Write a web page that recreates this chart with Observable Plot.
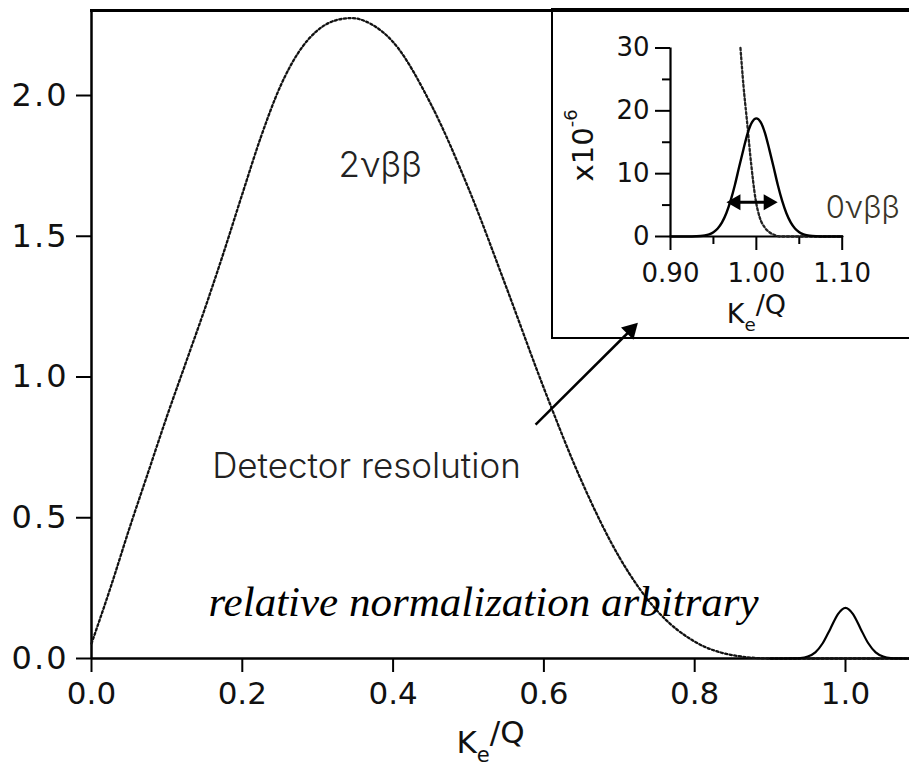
<!DOCTYPE html>
<html><head><meta charset="utf-8">
<script src="https://cdn.jsdelivr.net/npm/d3@7"></script>
<script src="https://cdn.jsdelivr.net/npm/@observablehq/plot@0.6"></script>
<style>
html,body{margin:0;padding:0;background:#fff;overflow:hidden;}
#wrap{position:relative;width:909px;height:767px;overflow:hidden;background:#fff;}
#main{position:absolute;left:0;top:0;}
#insetBox{position:absolute;left:551px;top:8px;width:400px;height:326px;border-left:2px solid #000;border-top:3px solid #000;border-bottom:2px solid #000;}
</style></head><body>
<div id="wrap"><div id="main"></div><div id="insetBox"></div></div>
<script>
// ---- main chart: 2νββ spectrum (dotted) ----
const twoNuX = [0, 0.025, 0.05, 0.075, 0.10, 0.125, 0.15, 0.175, 0.20, 0.225, 0.25, 0.275, 0.30, 0.325, 0.345, 0.37, 0.40, 0.45, 0.50, 0.55, 0.60, 0.65, 0.70, 0.75, 0.80, 0.85, 0.90, 1.085];
const twoNuY = [0.053, 0.25, 0.46, 0.66, 0.86, 1.05, 1.24, 1.44, 1.65, 1.855, 2.03, 2.155, 2.232, 2.268, 2.275, 2.255, 2.19, 1.97, 1.67, 1.32, 0.96, 0.63, 0.36, 0.17, 0.06, 0.012, 0.0, 0.0];
// ---- main chart: 0νββ peak (solid) ----
const zeroNuX = [0.90, 0.92, 0.93, 0.94, 0.95, 0.96, 0.97, 0.98, 0.99, 1.00, 1.01, 1.02, 1.03, 1.04, 1.05, 1.06, 1.07, 1.08, 1.085];
const zeroNuY = [0, 0, 0.0005, 0.0015, 0.007, 0.022, 0.055, 0.106, 0.158, 0.18, 0.158, 0.106, 0.055, 0.022, 0.007, 0.0015, 0.0005, 0, 0];
// ---- main ticks ----
const mainXTicks = [0, 0.2, 0.4, 0.6, 0.8, 1.0];
const mainYTicks = [0, 0.5, 1.0, 1.5, 2.0];
// ---- main annotations ----
const peakLabel = ["2νββ"], peakLabelX = [0.383], peakLabelY = [1.75];
const resLabel = ["Detector resolution"], resLabelX = [0.16], resLabelY = [0.68];
const normText = ["relative normalization arbitrary"], normX = [0.52], normY = [0.2];
// main arrow (from, to)
const arrowX1 = [0.589], arrowY1 = [0.831], arrowX2 = [0.7152], arrowY2 = [1.167];

// ---- inset: 0νββ peak (solid) ----
const insetPeakX = [0.90, 0.92, 0.93, 0.935, 0.94, 0.945, 0.95, 0.955, 0.96, 0.965, 0.97, 0.975, 0.98, 0.985, 0.99, 0.995, 1.00, 1.005, 1.01, 1.015, 1.02, 1.025, 1.03, 1.035, 1.04, 1.045, 1.05, 1.055, 1.06, 1.065, 1.07, 1.08, 1.10];
const insetPeakY = [0, 0, 0.03, 0.07, 0.16, 0.34, 0.68, 1.28, 2.25, 3.7, 5.7, 8.2, 11.1, 13.9, 16.5, 18.2, 18.8, 18.2, 16.5, 13.9, 11.1, 8.2, 5.7, 3.7, 2.25, 1.28, 0.68, 0.34, 0.16, 0.07, 0.03, 0, 0];
// ---- inset: 2νββ tail (dotted) ----
const insetTailX = [0.9815, 0.985, 0.989, 0.994, 0.999, 1.004, 1.010, 1.016, 1.022, 1.028, 1.10];
const insetTailY = [30, 24, 18.5, 11.5, 6.0, 3.0, 1.4, 0.6, 0.2, 0, 0];
const insetXTicks = [0.90, 1.00, 1.10];
const insetXMinor = [0.95, 1.05];
const insetYTicks = [0, 10, 20, 30];
const insetYMinor = [5, 15, 25];
// resolution double arrow
const resX1 = [0.976], resX2 = [1.014], resY = [5.45];
const zeroNuLabel = ["0νββ"], zeroNuLabelX = [1.124], zeroNuLabelY = [4.6];

const pts = (xs, ys) => xs.map((x, i) => ({x, y: ys[i]}));

const tickFont = "'DejaVu Sans', sans-serif";
const lightFont = "Inter, 'Open Sans', sans-serif";

const main = Plot.plot({
  width: 909, height: 767,
  marginLeft: 91, marginRight: 0, marginTop: 10, marginBottom: 109,
  style: {background: "transparent", fontFamily: tickFont, color: "#111"},
  x: {domain: [0, 1.0849]},
  y: {domain: [0, 2.302]},
  marks: [
    Plot.frame({anchor: "top", stroke: "#000", strokeWidth: 3}),
    Plot.axisX({ticks: mainXTicks, tickSize: 14, tickPadding: 9, tickFormat: d3.format(".1f"), fontSize: 31, label: null, strokeWidth: 2, stroke: "#000"}),
    Plot.axisY({ticks: mainYTicks, tickSize: 15, tickPadding: 8, tickFormat: d3.format(".1f"), fontSize: 32, label: null, strokeWidth: 2, stroke: "#000"}),
    Plot.ruleY([0], {stroke: "#000", strokeWidth: 2.5}),
    Plot.ruleX([0], {stroke: "#000", strokeWidth: 2.5, y1: 0, y2: 2.302}),
    Plot.line(pts(twoNuX, twoNuY), {x: "x", y: "y", curve: "monotone-x", stroke: "#111", strokeWidth: 2.3, strokeDasharray: "2.2 2.4"}),
    Plot.line(pts(zeroNuX, zeroNuY), {x: "x", y: "y", curve: "monotone-x", stroke: "#000", strokeWidth: 2.2}),
    Plot.link([0], {x1: () => arrowX1[0], y1: () => arrowY1[0], x2: () => arrowX2[0], y2: () => arrowY2[0], stroke: "#000", strokeWidth: 2.5}),
    Plot.dot([0], {x: () => arrowX2[0], y: () => arrowY2[0], symbol: "triangle", r: 6.5, fill: "#000", stroke: "none", rotate: 45}),
    Plot.text(peakLabel, {x: (d, i) => peakLabelX[i], y: (d, i) => peakLabelY[i], text: d => d, textAnchor: "middle", fontSize: 35, fontFamily: lightFont, fontWeight: 300, fill: "#222"}),
    Plot.text(resLabel, {x: (d, i) => resLabelX[i], y: (d, i) => resLabelY[i], text: d => d, textAnchor: "start", fontSize: 35, fontFamily: lightFont, fontWeight: 300, fill: "#222"}),
    Plot.text(normText, {x: (d, i) => normX[i], y: (d, i) => normY[i], text: d => d, fontSize: 43, fontFamily: "'Liberation Serif', serif", fontStyle: "italic", fill: "#000"}),
    Plot.text(["Ke/Q"], {frameAnchor: "bottom", dy: 94, dx: -10, text: d => d, fontSize: 31, fontFamily: tickFont, fill: "#111"})
  ]
});
document.getElementById("main").appendChild(main);

const inset = Plot.plot({
  width: 356, height: 326,
  marginLeft: 117, marginRight: 67.3, marginTop: 36.5, marginBottom: 101,
  style: {background: "transparent", fontFamily: tickFont, color: "#111", overflow: "visible"},
  x: {domain: [0.9, 1.1]},
  y: {domain: [0, 30]},
  marks: [
    Plot.axisX({ticks: insetXTicks, tickSize: 14, tickPadding: 13, tickFormat: d3.format(".2f"), fontSize: 26, label: null, strokeWidth: 2, stroke: "#000"}),
    Plot.axisX({ticks: insetXMinor, tickSize: 8, text: null, label: null, strokeWidth: 2, stroke: "#000"}),
    Plot.axisY({ticks: insetYTicks, tickSize: 15, tickPadding: 6, fontSize: 26, label: null, strokeWidth: 2, stroke: "#000"}),
    Plot.axisY({ticks: insetYMinor, tickSize: 8, text: null, label: null, strokeWidth: 2, stroke: "#000"}),
    Plot.ruleY([0], {stroke: "#000", strokeWidth: 2.2}),
    Plot.ruleX([0.9], {stroke: "#000", strokeWidth: 2.2}),
    Plot.line(pts(insetTailX, insetTailY), {x: "x", y: "y", curve: "monotone-x", stroke: "#222", strokeWidth: 2.3, strokeDasharray: "2.2 2.4"}),
    Plot.line(pts(insetPeakX, insetPeakY), {x: "x", y: "y", curve: "monotone-x", stroke: "#000", strokeWidth: 2.4}),
    Plot.link([0], {x1: () => resX1[0], x2: () => resX2[0], y1: () => resY[0], y2: () => resY[0], stroke: "#000", strokeWidth: 3}),
    Plot.dot([0, 1], {x: (d) => d === 0 ? resX1[0] : resX2[0], y: () => resY[0], symbol: "triangle", r: 6, fill: "#000", stroke: "none", rotate: d => d === 0 ? -90 : 90}),
    Plot.text(zeroNuLabel, {x: (d, i) => zeroNuLabelX[i], y: (d, i) => zeroNuLabelY[i], text: d => d, fontSize: 31, fontFamily: lightFont, fontWeight: 300, fill: "#3a3528"}),
    Plot.text(["x10-6"], {x: () => 0.7987, y: () => 14.5, text: d => d, rotate: -90, fontSize: 29, fontFamily: tickFont, fill: "#111"}),
    Plot.text(["Ke/Q"], {frameAnchor: "bottom", dy: 86, text: d => d, fontSize: 27, fontFamily: tickFont, fill: "#111"})
  ]
});
inset.style.overflow = "visible";
document.getElementById("insetBox").appendChild(inset);

// widen main y tick labels slightly
main.querySelectorAll('g[aria-label="y-axis tick label"] text').forEach(t => t.setAttribute("letter-spacing", "2"));

// rich text: subscript / superscript
const NS = "http://www.w3.org/2000/svg";
function rich(svg) {
  svg.querySelectorAll("text").forEach(t => {
    const s = t.textContent;
    let parts = null;
    if (s === "Ke/Q") parts = [["K", 0, 1], ["e", 0.3, 0.68], ["/Q", -0.3, 1]];
    if (s === "x10-6") parts = [["x10", 0, 1], ["-6", -0.55, 0.62]];
    if (!parts) return;
    const fs = parseFloat(t.getAttribute("font-size") || getComputedStyle(t).fontSize) || 24;
    while (t.firstChild) t.removeChild(t.firstChild);
    let prev = 0;
    for (const [str, shift, scale] of parts) {
      const sp = document.createElementNS(NS, "tspan");
      sp.textContent = str;
      sp.setAttribute("font-size", fs * scale);
      sp.setAttribute("dy", ((shift - prev) * fs).toFixed(2));
      prev = shift;
      t.appendChild(sp);
    }
  });
}
rich(main); rich(inset);
</script>
</body></html>
